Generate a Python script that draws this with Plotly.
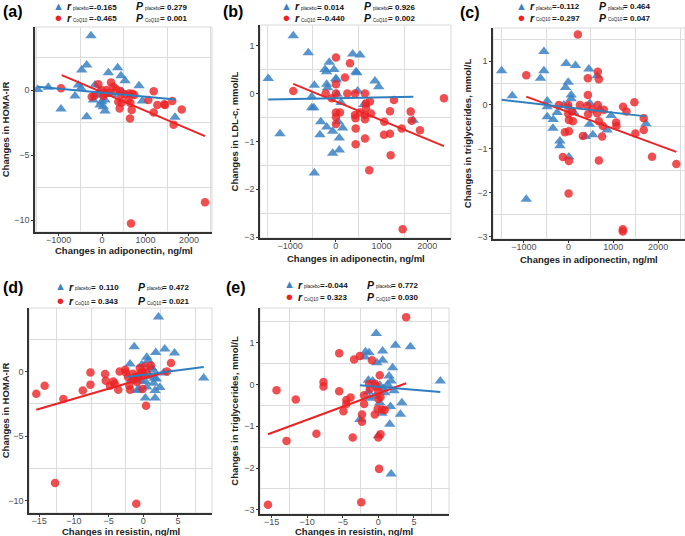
import plotly.graph_objects as go

# ---------------- data ----------------
# (a) adiponectin vs HOMA-IR
a_pl_x = [-1480, -1235, -943, -621, -544, -483, -467, -352, -253, -352, -161, -200, -122, -46,
          -8, 69, 69, 31, 146, 360, 437, 529, 468, 851, 928, 1679, -60, 230]
a_pl_y = [0.05, 0.21, -1.46, -0.46, 0.38, 0.13, 1.54, 1.92, 4.18, -2.05, 0.38, -0.77, -0.38, -1.15,
          -0.9, -0.77, -1.62, -1.28, 1.33, 1.72, 1.1, 0.72, -0.13, 0.33, -0.85, -2.1, -0.1, -0.35]
a_cq_x = [-943, -237, -176, -84, -8, 54, 107, 207, 261, 322, 375, 406, 414, 437, 452, 529, 606, 629,
          644, 652, 683, 698, 743, 1065, 1189, 1189, 1272, 1433, 1449, 1617, 1833, 1648, 667, 2369, 30, 160]
a_cq_y = [0.13, -0.51, -0.44, 0.44, 0, -0.26, 0, 0.59, 0.26, 0.08, -0.9, -1.41, -0.08, -0.38, -0.97,
          -0.33, -0.77, -0.26, -2.18, -1.0, -1.54, -0.28, -0.38, -0.77, -0.1, -1.72, -1.15, -1.1, -1.15,
          -0.85, -1.49, -2.66, -10.26, -8.64, -0.45, -0.2]
a_pl_fit_x = [-1480, 1694]
a_pl_fit_y = [0.26, -0.72]
a_cq_fit_x = [-927, 2369]
a_cq_fit_y = [1.15, -3.54]

# (b) adiponectin vs LDL-c
b_pl_x = [-930, -602, -1477, -1221, -236, -142, -39, -200, 4, 10, 370, 530, 442, 460, 858, 939, -470,
          -199, -180, -527, -527, -480, 30, 114, 479, 617, -330, -199, -346, -68, 55, 151, 77, 77, -68,
          -470, 1696]
b_pl_y = [1.2, 0.85, 0.31, -0.84, 0.5, 0.65, 0.5, 0.45, 0.31, 0.28, 0.82, 0.8, 0.45, 0.43, 0.26, 0.14,
          0.17, 0.19, 0.12, -0.07, -0.3, -0.3, -0.02, -0.19, 0.05, -0.23, -0.59, -0.7, -0.86, -0.79,
          -0.59, -0.72, -0.93, -1.18, -1.25, -1.66, -0.56]
b_cq_x = [-930, 4, 311, 201, 4, -221, -90, 4, 252, 420, 639, 4, 92, 4, 4, 420, 430, 530, 639, 661, 748,
          661, 770, 639, 1273, 1186, 1061, 1055, 1186, 435, 435, 639, 1201, 1639, 1661, 1842, 1442, 2367,
          733, 1464]
b_cq_y = [0.05, 0.75, 0.63, 0.33, 0.19, 0, -0.1, 0, 0, 0, 0, -0.4, -0.4, -0.49, -0.64, -0.45, -0.52,
          -0.4, -0.45, -0.21, -0.17, -0.3, -0.42, -0.54, -0.14, -0.37, -0.59, -0.86, -0.84, -0.73, -1.06,
          -0.94, -1.29, -0.38, -0.57, -0.77, -0.73, -0.1, -1.6, -2.83]
b_pl_fit_x = [-1477, 1696]
b_pl_fit_y = [-0.125, -0.07]
b_cq_fit_x = [-930, 2367]
b_cq_fit_y = [0.2, -1.1]

# (c) adiponectin vs triglycerides
c_pl_x = [-1496, -1258, -551, -551, -627, -477, -477, -477, -350, -343, -254, -194, -194, -54, -9, -69,
          58, 58, -105, 10, 118, 154, 453, 638, 475, 466, 377, 542, 861, 950, 1730, 7, -945, 700]
c_pl_y = [0.78, 0.21, 1.22, 0.78, 0.61, 0.09, -0.04, -0.27, -0.53, -0.33, -0.17, -0.82, -0.93, 0.95,
          0.52, 0.4, 0.23, 0.14, 0, -0.05, -0.17, 0.9, 0.82, 0.67, 0.04, -0.44, -0.72, -0.68, -0.57,
          -0.24, -0.43, -1.19, -2.15, -0.1]
c_cq_x = [207, -945, 653, 430, 676, 430, 252, -9, -216, -9, 80, 7, 96, 415, 526, 653, 787, 437, 638, 676,
          765, 1061, 1068, 1217, 1291, 1469, 1679, 1679, 1492, 319, 749, -83, 7, -127, 7, 676, 1864, 2406,
          0, 1211, 1211]
c_cq_y = [1.61, 0.68, 0.76, 0.61, 0.59, 0.23, 0, 0, 0, -0.2, -0.15, -0.34, -0.37, -0.02, -0.09, 0, -0.11,
          -0.21, -0.19, -0.37, -0.48, -0.4, -0.48, -0.04, -0.15, 0.06, -0.3, -0.57, -0.65, -0.71, -0.72,
          -0.62, -0.6, -1.19, -1.28, -1.27, -1.18, -1.35, -2.02, -2.84, -2.89]
c_pl_fit_x = [-1496, 1730]
c_pl_fit_y = [0.12, -0.26]
c_cq_fit_x = [-945, 2406]
c_cq_fit_y = [0.19, -1.07]

# (d) resistin vs HOMA-IR
d_pl_x = [2.2, -1.3, 1.8, 3.1, 4.5, 0.5, 0.7, -1.9, -0.2, 1.2, 1.4, 1.0, -0.8, -1.7, -0.4, 0.3, 1.9,
          2.9, 1.6, -0.6, 0.5, 1.5, 2.4, -0.9, 1.7, 0.3, 1.7, 8.7]
d_pl_y = [4.24, 1.93, 1.5, 1.77, 1.45, 1.12, 0.88, 0.6, 0.54, 0.3, 0.16, -0.36, -0.41, -0.62, -0.7,
          -0.75, -0.57, -0.1, -0.5, -1.35, -1.19, -0.9, -1.22, -1.45, -1.45, -2.04, -2.04, -0.49]
d_cq_x = [-15.4, -14.2, -11.5, -8.7, -7.6, -7.6, -5.5, -5.4, -4.8, -4.3, -4.1, -3.6, -3.4, -2.6, -2.5,
          -2.2, -2.0, -1.9, -1.5, -1.2, -1.4, -0.9, -0.5, -0.2, 0, -0.6, 0.3, 1.1, -0.1, 0.4, 4.0, 3.4,
          -12.7, -1.0, -0.5, 0.5]
d_cq_y = [-1.71, -1.09, -2.12, -1.45, -0.05, -1.0, -0.18, -0.7, -1.09, -0.75, -0.93, -1.4, 0.02, 0.16,
          -0.05, -0.4, -1.09, -1.4, -0.16, -0.4, -0.62, -0.8, 0.28, 0.02, -0.16, -0.36, 0.4, 0.49, -1.34,
          -2.64, 0.67, 0.02, -8.63, -10.23, -0.2, -0.1]
d_pl_fit_x = [-2.4, 8.7]
d_pl_fit_y = [-0.41, 0.36]
d_cq_fit_x = [-15.4, 4.0]
d_cq_fit_y = [-2.95, 0.1]

# (e) resistin vs triglycerides
e_pl_x = [-0.3, -1.8, -1.3, -1.9, 0.6, 0.6, -0.2, 2.4, 4.5, 2.0, 8.7, -1.4, -0.8, 1.5, 1.8, 1.3, 2.2,
          0.2, 0.7, -1.4, -1.2, -0.5, 0.2, 0.9, 1.7, 3.3, 0.5, 3.1, -2.6, 1.6, 0, 1.8]
e_pl_y = [1.22, 0.78, 0.76, 0.66, 0.8, 0.58, 0.52, 0.94, 0.9, 0.4, 0.08, 0.1, 0.08, 0.2, 0.08, 0.0,
          -0.15, -0.02, -0.1, -0.18, -0.33, -0.28, -0.44, -0.2, -0.53, -0.44, -0.69, -0.71, -0.84, -0.95,
          -1.23, -2.14]
e_cq_x = [-15.5, -14.3, -12.9, -11.6, -8.7, -7.7, -7.7, -5.5, -5.5, -4.9, -4.5, -4.5, -3.9, -3.6, -3.4,
          -2.6, -2.3, -2.4, -2.0, -2.0, -0.9, -1.2, -1.3, -0.5, 0, 0.2, 0, -0.1, 0.5, 0.9, -0.5, -2.3, 0.1,
          0.3, 0, 3.9, -0.3, 0.3]
e_cq_y = [-2.88, -0.14, -1.35, -0.36, -1.18, 0.06, -0.05, 0.75, -0.16, -0.64, -0.37, -0.47, -0.31,
          -1.27, 0.6, 0.68, -0.72, -2.82, -0.26, -0.47, 0.58, -0.1, 0.01, 0.02, -0.14, 0.22, -0.35, -0.59,
          -0.6, -0.61, -0.72, -0.89, -2.02, -1.19, -1.27, 1.61, -0.05, -0.3]
e_pl_fit_x = [-2.6, 8.7]
e_pl_fit_y = [-0.02, -0.18]
e_cq_fit_x = [-15.5, 3.9]
e_cq_fit_y = [-1.19, 0.03]

panel_tags = ["(a)", "(b)", "(c)", "(d)", "(e)"]
x_titles = ["Changes in adiponectin, ng/ml"] * 3 + ["Changes in resistin, ng/ml"] * 2
y_titles = ["Changes in HOMA-IR", "Changes in LDL-c, mmol/L", "Changes in triglycerides, mmol/L",
            "Changes in HOMA-IR", "Changes in triglycerides, mmol/L"]
r_placebo = ["-0.165", "0.014", "-0.112", "0.110", "-0.044"]
p_placebo = ["0.279", "0.926", "0.464", "0.472", "0.772"]
r_coq10 = ["-0.465", "-0.440", "-0.297", "0.343", "0.323"]
p_coq10 = ["0.001", "0.002", "0.047", "0.021", "0.030"]

# ---------------- layout (pixels) ----------------
W, H = 685, 536
BLUE = "#3b82c4"
RED = "#ec2326"
FONT = "Liberation Sans"

# plot box (left, top, right, bottom) in px, axis ranges, tick steps
boxes = [(35, 27, 212, 232), (260, 25, 451, 238), (493, 28, 685, 239),
         (29, 308, 212, 513), (260, 308, 449, 514)]
xranges = [[-1541, 2530], [-1658, 2521], [-1688, 2600], [-16.45, 9.9], [-16.62, 9.92]]
yranges = [[-10.92, 4.85], [-3.015, 1.426], [-3.06, 1.758], [-10.95, 4.94], [-3.1, 1.83]]
xdt = [1000, 1000, 1000, 5, 5]
ydt = [5, 1, 1, 5, 1]
xtitle_y = [250.5, 258.5, 259.5, 531, 531]
# legend anchor: (symbol x, row1 y, row2 y); panel tag position
legend_pos = [(58, 7, 19), (286, 7, 19), (521, 6.5, 18), (60, 287, 301.5), (289, 285, 297.5)]
tag_pos = [(1, 12), (221, 12), (458, 13), (1, 287), (224, 287)]

series = [
    (a_pl_x, a_pl_y, a_cq_x, a_cq_y, a_pl_fit_x, a_pl_fit_y, a_cq_fit_x, a_cq_fit_y),
    (b_pl_x, b_pl_y, b_cq_x, b_cq_y, b_pl_fit_x, b_pl_fit_y, b_cq_fit_x, b_cq_fit_y),
    (c_pl_x, c_pl_y, c_cq_x, c_cq_y, c_pl_fit_x, c_pl_fit_y, c_cq_fit_x, c_cq_fit_y),
    (d_pl_x, d_pl_y, d_cq_x, d_cq_y, d_pl_fit_x, d_pl_fit_y, d_cq_fit_x, d_cq_fit_y),
    (e_pl_x, e_pl_y, e_cq_x, e_cq_y, e_pl_fit_x, e_pl_fit_y, e_cq_fit_x, e_cq_fit_y),
]

fig = go.Figure()
layout = {}
shapes = []
annotations = []

for i in range(5):
    s = "" if i == 0 else str(i + 1)
    xa, ya = "x" + s, "y" + s
    plx, ply, cqx, cqy, pfx, pfy, cfx, cfy = series[i]

    fig.add_trace(go.Scatter(x=plx, y=ply, xaxis=xa, yaxis=ya, mode="markers", name="placebo",
                             marker=dict(symbol="triangle-up", size=10, color=BLUE, opacity=0.85),
                             showlegend=False))
    fig.add_trace(go.Scatter(x=cqx, y=cqy, xaxis=xa, yaxis=ya, mode="markers", name="CoQ10",
                             marker=dict(symbol="circle", size=8.5, color=RED, opacity=0.8),
                             showlegend=False))
    fig.add_trace(go.Scatter(x=cfx, y=cfy, xaxis=xa, yaxis=ya, mode="lines",
                             line=dict(color=RED, width=2), showlegend=False, hoverinfo="skip"))
    fig.add_trace(go.Scatter(x=pfx, y=pfy, xaxis=xa, yaxis=ya, mode="lines",
                             line=dict(color="#2f7fc0", width=2), showlegend=False, hoverinfo="skip"))

    l, t, r, b = boxes[i]
    common = dict(showgrid=False, zeroline=False, showline=True, linecolor="#333333", linewidth=1.5,
                  ticks="outside", ticklen=2, tickcolor="#333333", tick0=0,
                  tickfont=dict(family=FONT, size=9, color="#4d4d4d"), automargin=False)
    layout["xaxis" + s] = dict(
        common, domain=[l / W, r / W], range=xranges[i], dtick=xdt[i], anchor=ya,
        ticklabelstandoff=-4,
        minor=dict(dtick=xdt[i] / 2, tick0=0, showgrid=True, gridcolor="#dcdcdc", gridwidth=1))
    layout["yaxis" + s] = dict(
        common, domain=[1 - b / H, 1 - t / H], range=yranges[i], dtick=ydt[i], anchor=xa,
        minor=dict(dtick=ydt[i] / 2, tick0=0, showgrid=True, gridcolor="#dcdcdc", gridwidth=1),
        title=dict(text="<b>" + y_titles[i] + "</b>", standoff=4,
                   font=dict(family=FONT, size=9.5, color="#222222")))
    shapes.append(dict(type="rect", xref=xa + " domain", yref=ya + " domain", x0=0, x1=1, y0=0, y1=1,
                       line=dict(color="#d8d8d8", width=1), layer="below"))

    # x-axis title
    annotations.append(dict(text="<b>" + x_titles[i] + "</b>", x=(l + r) / 2 / W,
                            y=1 - xtitle_y[i] / H, xref="paper", yref="paper",
                            xanchor="center", yanchor="middle", showarrow=False, borderpad=0,
                            font=dict(family=FONT, size=9.5, color="#222222")))

    # panel tag
    tx, ty = tag_pos[i]
    annotations.append(dict(text="<b>" + panel_tags[i] + "</b>", x=tx / W, y=1 - ty / H,
                            xref="paper", yref="paper", xanchor="left", yanchor="middle",
                            showarrow=False, font=dict(family=FONT, size=16, color="black")))

    # legend header
    lx, ly1, ly2 = legend_pos[i]
    gap = ly2 - ly1
    # both key symbols in one two-line text
    annotations.append(dict(
        text=f"<span style='color:{BLUE};font-size:11px'>▲</span><br>"
             f"<span style='color:{RED};font-size:13px'>●</span>",
        x=lx / W, y=1 - (ly1 + ly2) / 2 / H, xref="paper", yref="paper",
        xanchor="center", yanchor="middle", align="center", showarrow=False, borderpad=0,
        font=dict(family=FONT, size=gap / 1.3, color=BLUE)))
    rows = [("placebo", r_placebo[i], p_placebo[i], ly1),
            ("CoQ10", r_coq10[i], p_coq10[i], ly2)]
    for grp, rv, pv, yy in rows:
        def add(text, dx, dy, size, anchor="left", color="#111111"):
            annotations.append(dict(text=text, x=(lx + dx) / W, y=1 - (yy + dy) / H,
                                    xref="paper", yref="paper", xanchor=anchor, yanchor="middle",
                                    showarrow=False, borderpad=0,
                                    font=dict(family=FONT, size=size, color=color)))
        add("<b><i>r</i></b>", 8, -0.5, 10.5)
        add(grp, 13.5, 1.5, 4.5)
        add("<b>=</b>", 33, 0, 8, "center")
        add("<b>" + rv + "</b>", 60, 0, 8, "right")
        add("<b><i>P</i></b>", 77, -0.5, 10.5)
        add(grp, 86, 1.5, 4.5)
        add("<b>=</b>", 104, 0, 8, "center")
        add("<b>" + pv + "</b>", 108, 0, 8)

fig.update_layout(**layout)
fig.update_layout(width=W, height=H, margin=dict(l=0, r=0, t=0, b=0),
                  paper_bgcolor="white", plot_bgcolor="white",
                  font=dict(family=FONT, color="#333333"),
                  shapes=shapes, annotations=annotations, showlegend=False)

fig.write_html("out.html", config={"displayModeBar": False},
               post_script="document.body.style.margin='0';")
